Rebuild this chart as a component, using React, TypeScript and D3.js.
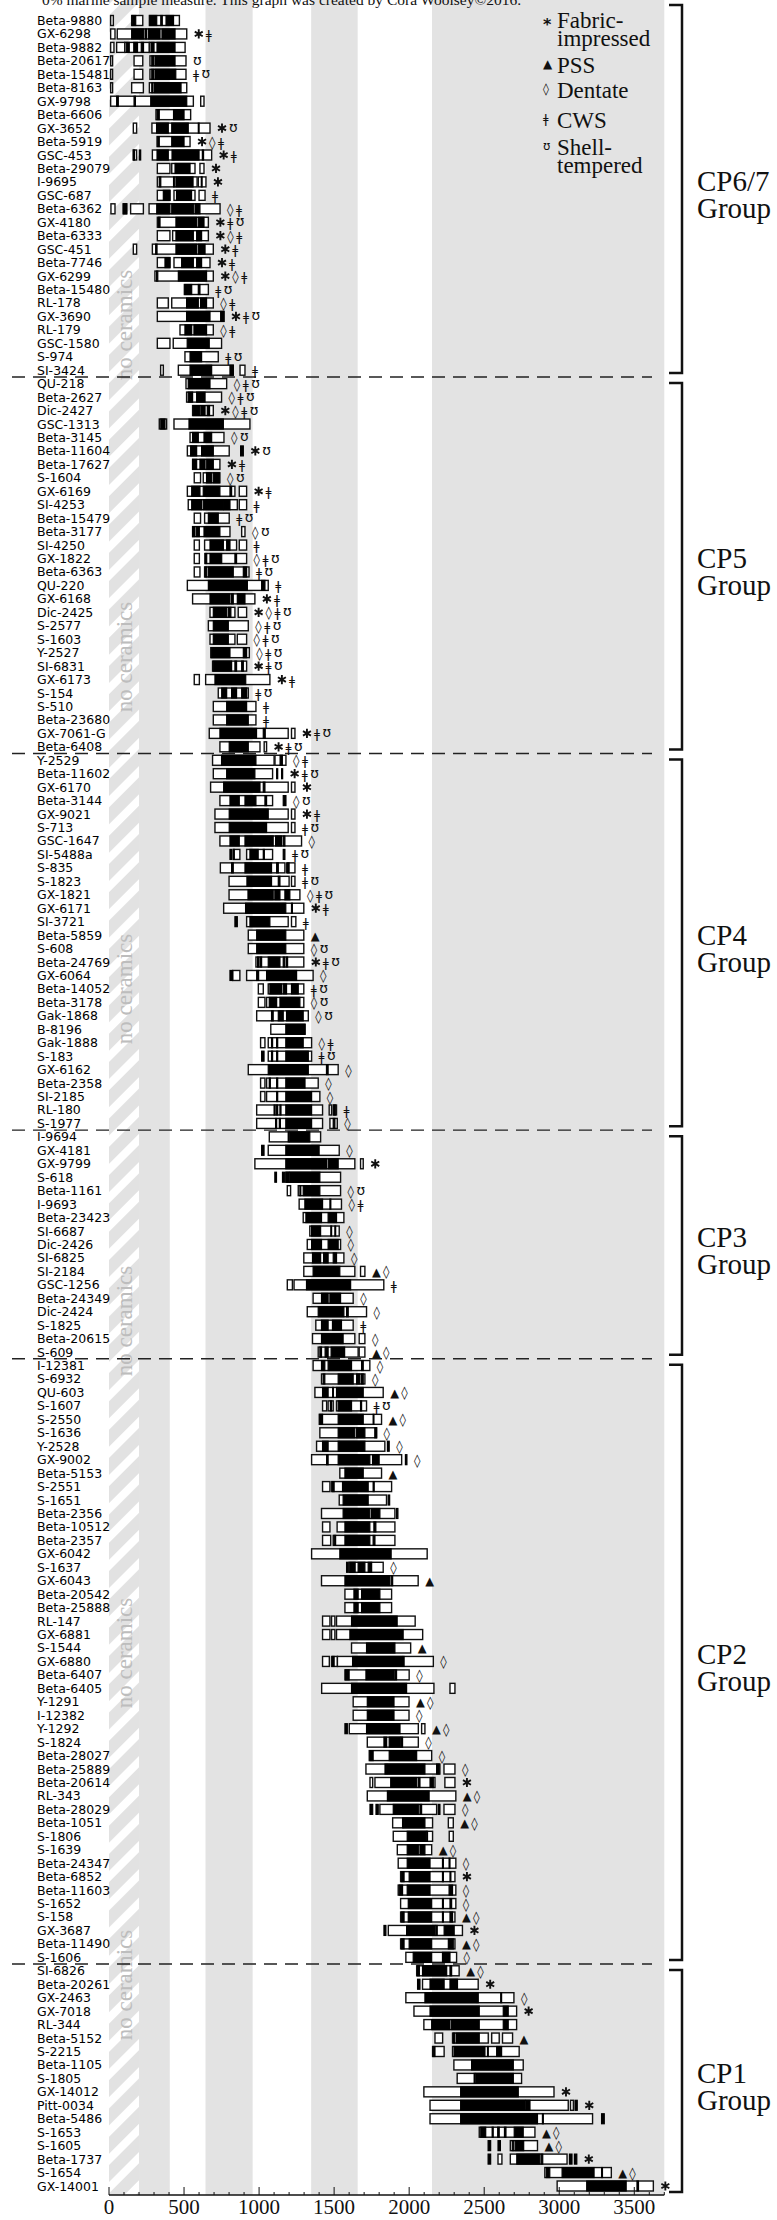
import React, { useEffect } from "react";
import * as d3 from "d3";

type Row = [string, number[][], number[][], string];

const cp67: Row[] = [
  ["Beta-9880", [[11,29],[151,225],[269,469]], [[155,178],[273,318],[345,355],[380,430]], ""],
  ["GX-6298", [[11,40],[55,518]], [[151,229],[240,250],[262,340],[353,440]], "*ǂ"],
  ["Beta-9882", [[11,33],[51,105],[105,269],[269,507]], [[115,135],[165,190],[215,230],[280,300],[320,440]], ""],
  ["Beta-20617", [[11,24],[167,225],[273,513]], [[285,300],[310,440]], "ʊ"],
  ["Beta-15481", [[11,24],[167,225],[273,513]], [[285,300],[310,445]], "ǂʊ"],
  ["Beta-8163", [[11,24],[151,229],[269,518]], [[285,290],[300,480]], ""],
  ["GX-9798", [[11,562],[611,633]], [[51,62],[167,176],[278,518]], ""],
  ["Beta-6606", [[313,544]], [[320,335],[430,500]], ""],
  ["GX-3652", [[162,184],[286,673]], [[317,395],[418,528],[595,600]], "*ʊ"],
  ["Beta-5919", [[320,540]], [[325,335],[418,500]], "*◊ǂ"],
  ["GSC-453", [[162,184],[289,684]], [[162,170],[202,211],[320,395],[420,600],[622,630]], "*ǂ"],
  ["Beta-29079", [[322,406],[418,573],[606,633]], [[440,540]], "*"],
  ["I-9695", [[322,587],[595,646]], [[335,345],[430,435],[446,560],[615,620]], "*"],
  ["GSC-687", [[322,406],[433,573],[600,640]], [[362,406],[450,550]], "ǂ"],
  ["Beta-6362", [[13,40],[95,118],[144,229],[267,740]], [[95,118],[318,406],[418,562],[573,606]], "◊ǂ"],
  ["GX-4180", [[322,662]], [[330,340],[446,584],[595,633]], "*ǂʊ"],
  ["Beta-6333", [[322,406],[424,662]], [[446,562],[584,617]], "*◊ǂ"],
  ["GSC-451", [[162,184],[289,695]], [[311,320],[446,584],[595,640]], "*ǂ"],
  ["Beta-7746", [[322,406],[433,673]], [[373,406],[484,562],[584,617]], "*ǂ"],
  ["GX-6299", [[306,695]], [[317,325],[462,650]], "*◊ǂ"],
  ["Beta-15480", [[502,662]], [[506,551],[595,606]], "ǂʊ"],
  ["RL-178", [[322,395],[418,695]], [[517,595],[610,650]], "◊ǂ"],
  ["GX-3690", [[322,766]], [[517,673],[744,766]], "*ǂʊ"],
  ["RL-179", [[473,695]], [[506,551],[566,650]], "◊ǂ"],
  ["GSC-1580", [[322,406],[428,750]], [[521,668]], ""],
  ["S-974", [[506,728]], [[540,617]], "ǂʊ"],
  ["SI-3424", [[344,362],[462,828],[873,906]], [[540,684],[806,828]], "ǂ"],
];

const cp5: Row[] = [
  ["QU-218", [[513,784]], [[528,673]], "◊ǂʊ"],
  ["Beta-2627", [[517,750]], [[528,557],[584,640]], "◊ǂʊ"],
  ["Dic-2427", [[557,695]], [[562,606],[613,640],[655,670]], "*◊ǂʊ"],
  ["GSC-1313", [[335,384],[433,939]], [[345,373],[533,762]], ""],
  ["Beta-3145", [[540,766]], [[557,595],[633,684]], "◊ʊ"],
  ["Beta-11604", [[522,801]], [[544,584],[617,695],[877,895]], "*ʊ"],
  ["Beta-17627", [[557,739]], [[557,584],[606,640],[651,695]], "*ǂ"],
  ["S-1604", [[568,610],[628,739]], [[650,684],[695,735]], "◊ʊ"],
  ["GX-6169", [[522,839],[868,917]], [[551,606],[628,739],[806,817]], "*ǂ"],
  ["SI-4253", [[528,855],[868,917]], [[551,617],[628,762],[766,806]], "ǂ"],
  ["Beta-15479", [[568,610],[637,801]], [[662,728]], "ǂʊ"],
  ["Beta-3177", [[557,806],[884,906]], [[557,573],[584,602],[633,739]], "◊ʊ"],
  ["SI-4250", [[568,602],[637,850],[868,917]], [[673,762],[784,806]], "ǂ"],
  ["GX-1822", [[568,602],[640,917]], [[640,651],[673,751],[839,850]], "◊ǂʊ"],
  ["Beta-6363", [[568,606],[637,933]], [[640,651],[662,828],[895,917]], "ǂʊ"],
  ["QU-220", [[522,1061]], [[662,922],[1017,1039]], "ǂ"],
  ["GX-6168", [[557,972]], [[673,806],[817,828],[855,906]], "*ǂ"],
  ["Dic-2425", [[673,839],[861,917]], [[695,784],[795,812]], "*◊ǂʊ"],
  ["S-2577", [[662,928]], [[695,795]], "◊ǂʊ"],
  ["S-1603", [[673,839],[855,917]], [[695,795]], "◊ǂʊ"],
  ["Y-2527", [[678,935]], [[684,806],[895,917]], "◊ǂʊ"],
  ["SI-6831", [[690,917]], [[695,817],[839,850],[884,895]], "*ǂʊ"],
  ["GX-6173", [[568,602],[644,1072]], [[706,911]], "*ǂ"],
  ["S-154", [[728,928]], [[751,784],[817,850],[884,917]], "ǂʊ"],
  ["S-510", [[695,979]], [[784,917]], "ǂ"],
  ["Beta-23680", [[695,979]], [[784,928]], "ǂ"],
  ["GX-7061-G", [[668,1194],[1216,1239]], [[739,983],[1028,1041]], "*ǂʊ"],
  ["Beta-6408", [[739,1006],[1034,1050]], [[801,928]], "*ǂʊ"],
];

const cp4: Row[] = [
  ["Y-2529", [[690,1100],[1106,1179]], [[750,979],[1140,1155]], "◊ǂ"],
  ["Beta-11602", [[695,1090]], [[784,972],[1117,1124],[1150,1157]], "*ǂʊ"],
  ["GX-6170", [[677,1194],[1216,1239]], [[764,1006],[1028,1039]], "*"],
  ["Beta-3144", [[739,1090]], [[806,868],[906,979],[1039,1050],[1161,1179]], "◊ʊ"],
  ["GX-9021", [[706,1194],[1216,1239]], [[801,1061]], "*ǂ"],
  ["S-713", [[706,1194],[1216,1239]], [[801,1050]], "ǂʊ"],
  ["GSC-1647", [[739,1283]], [[806,868],[906,1094],[1110,1150],[1161,1172]], "◊"],
  ["SI-5488a", [[828,872],[917,1090]], [[806,817],[828,835],[939,994],[1028,1035],[1161,1172]], "ǂʊ"],
  ["S-835", [[742,1172],[1183,1239]], [[817,828],[906,1083],[1117,1128],[1190,1200]], "ǂ"],
  ["S-1823", [[800,1200],[1216,1239]], [[919,1083],[1128,1139]], "ǂʊ"],
  ["GX-1821", [[800,1272]], [[926,1094],[1105,1139],[1172,1205]], "◊ǂʊ"],
  ["GX-6171", [[764,1298]], [[910,1178],[1216,1222]], "*ǂ"],
  ["SI-3721", [[917,1194],[1216,1245]], [[839,855],[939,1072]], "ǂ"],
  ["Beta-5859", [[928,1298]], [[984,1178]], "▲"],
  ["S-608", [[928,1298]], [[984,1178]], "◊ʊ"],
  ["Beta-24769", [[979,1298]], [[990,1000],[1010,1017],[1061,1139],[1161,1172],[1183,1190]], "*ǂʊ"],
  ["GX-6064", [[824,872],[917,1360]], [[806,824],[984,997],[1050,1250]], "◊"],
  ["Beta-14052", [[995,1028],[1061,1298]], [[1072,1150],[1161,1183],[1216,1261]], "ǂʊ"],
  ["Beta-3178", [[995,1039],[1050,1298]], [[1068,1117],[1139,1272]], "◊ʊ"],
  ["Gak-1868", [[984,1328]], [[1083,1094],[1128,1161],[1183,1294]], "◊ʊ"],
  ["B-8196", [[1078,1306]], [[1178,1306]], ""],
  ["Gak-1888", [[1010,1039],[1061,1350]], [[1083,1090],[1117,1124],[1178,1294]], "◊ǂ"],
  ["S-183", [[1061,1350]], [[1017,1033],[1083,1090],[1117,1124],[1178,1328]], "ǂʊ"],
  ["GX-6162", [[928,1527]], [[1061,1328],[1449,1460]], "◊"],
  ["Beta-2358", [[1010,1039],[1050,1394]], [[1068,1075],[1117,1124],[1178,1306]], "◊"],
  ["SI-2185", [[1010,1039],[1050,1405]], [[1117,1124],[1178,1350]], "◊"],
  ["RL-180", [[984,1423],[1467,1483],[1494,1516]], [[1100,1107],[1117,1124],[1139,1146],[1178,1350],[1498,1508]], "ǂ"],
  ["S-1977", [[984,1423],[1472,1521]], [[1110,1117],[1135,1142],[1178,1350],[1494,1505]], "◊"],
];

const cp3: Row[] = [
  ["I-9694", [[1068,1410]], [[1194,1200],[1205,1338]], ""],
  ["GX-4181", [[1061,1534]], [[1017,1033],[1178,1400]], "◊"],
  ["GX-9799", [[972,1638],[1676,1694]], [[1178,1449],[1460,1527]], "*"],
  ["S-618", [[1178,1543]], [[1105,1116],[1156,1172],[1183,1200],[1205,1405]], ""],
  ["Beta-1161", [[1188,1210],[1261,1543]], [[1272,1278],[1294,1405]], "◊ʊ"],
  ["I-9693", [[1267,1549]], [[1305,1423],[1472,1478]], "◊ǂ"],
  ["Beta-23423", [[1294,1565]], [[1312,1416],[1460,1516]], ""],
  ["SI-6687", [[1338,1534]], [[1350,1410],[1478,1483],[1505,1510]], "◊"],
  ["Dic-2426", [[1321,1543]], [[1350,1416],[1460,1527]], "◊"],
  ["SI-6825", [[1298,1565]], [[1356,1410],[1430,1460],[1494,1516]], "◊"],
  ["SI-2184", [[1298,1638],[1676,1705]], [[1360,1538]], "▲◊"],
  ["GSC-1256", [[1188,1222],[1233,1831]], [[1316,1610]], "ǂ"],
  ["Beta-24349", [[1360,1627]], [[1416,1460],[1472,1543]], "◊"],
  ["Dic-2424", [[1321,1716]], [[1394,1565],[1583,1594]], "◊"],
  ["S-1825", [[1378,1627]], [[1416,1460],[1489,1549]], "ǂ"],
  ["Beta-20615", [[1356,1638],[1667,1705]], [[1416,1560]], "◊"],
  ["S-609", [[1394,1660],[1667,1705]], [[1405,1416],[1440,1460],[1480,1570]], "▲◊"],
];

const cp2: Row[] = [
  ["I-12381", [[1360,1738]], [[1416,1438],[1460,1616],[1683,1694]], "◊"],
  ["S-6932", [[1416,1705]], [[1427,1438],[1527,1627],[1650,1672],[1683,1694]], "◊"],
  ["QU-603", [[1372,1827]], [[1423,1460],[1490,1495],[1516,1694]], "▲◊"],
  ["S-1607", [[1423,1450],[1460,1494],[1516,1716]], [[1475,1483],[1527,1616],[1676,1683]], "ǂʊ"],
  ["S-2550", [[1401,1816]], [[1405,1423],[1527,1694],[1760,1765]], "▲◊"],
  ["S-1636", [[1405,1783]], [[1527,1638],[1650,1705],[1771,1783]], "◊"],
  ["Y-2528", [[1383,1838]], [[1423,1460],[1527,1705],[1855,1867]], "◊"],
  ["GX-9002", [[1350,1950]], [[1450,1460],[1527,1738],[1756,1800],[1975,1985]], "◊"],
  ["Beta-5153", [[1538,1816]], [[1572,1694]], "▲"],
  ["S-2551", [[1423,1472],[1483,1883]], [[1490,1500],[1556,1727],[1760,1767]], ""],
  ["S-1651", [[1534,1849]], [[1560,1727],[1860,1870]], ""],
  ["Beta-2356", [[1416,1905]], [[1560,1738],[1749,1805],[1916,1925]], ""],
  ["Beta-10512", [[1423,1472],[1520,1905]], [[1572,1738],[1765,1778]], ""],
  ["Beta-2357", [[1423,1477],[1494,1905]], [[1500,1510],[1572,1738],[1760,1772]], ""],
  ["GX-6042", [[1350,2120]], [[1538,1880]], ""],
  ["S-1637", [[1600,1827]], [[1583,1594],[1605,1640],[1660,1705],[1727,1750]], "◊"],
  ["GX-6043", [[1416,2060]], [[1572,1870],[1880,1890]], "▲"],
  ["Beta-20542", [[1572,1883]], [[1632,1660],[1683,1805]], ""],
  ["Beta-25888", [[1572,1883]], [[1632,1660],[1683,1805]], ""],
  ["RL-147", [[1423,1472],[1483,1505],[1516,2040]], [[1616,1920]], ""],
  ["GX-6881", [[1423,1472],[1483,1505],[1516,2090]], [[1605,1960]], ""],
  ["S-1544", [[1616,2010]], [[1716,1905]], "▲"],
  ["GX-6880", [[1423,1468],[1483,1522],[1522,2161]], [[1490,1500],[1623,1956],[1961,1966]], "◊"],
  ["Beta-6407", [[1572,2000]], [[1576,1600],[1712,1899],[1905,1916]], "◊"],
  ["Beta-6405", [[1417,2165],[2272,2305]], [[1616,1983]], ""],
  ["Y-1291", [[1627,1999]], [[1721,1899]], "▲◊"],
  ["I-12382", [[1627,1999]], [[1721,1899]], "◊"],
  ["Y-1292", [[1601,2061],[2083,2105]], [[1572,1588],[1716,1939]], "▲◊"],
  ["S-1824", [[1721,2061]], [[1832,1850],[1867,1939],[1944,1956]], "◊"],
  ["Beta-28027", [[1734,2150]], [[1739,1760],[1867,2050]], "◊"],
  ["Beta-25889", [[1712,2205],[2232,2305]], [[1839,1850],[1855,2105],[2183,2200]], "◊"],
  ["Beta-20614", [[1739,1757],[1772,2172],[2238,2305]], [[1877,2050],[2061,2072],[2139,2161]], "*"],
  ["RL-343", [[1721,2311]], [[1855,2133]], "▲◊"],
  ["Beta-28029", [[1805,2183],[2232,2305]], [[1739,1757],[1779,1794],[1894,2061],[2072,2083],[2194,2205]], "◊"],
  ["Beta-1051", [[1890,2156],[2261,2294]], [[1956,1962],[1968,2105]], "▲◊"],
  ["S-1806", [[1894,2156],[2267,2294]], [[1987,2112],[2117,2122]], ""],
  ["S-1639", [[1921,2150]], [[1987,2061],[2072,2105]], "▲◊"],
  ["Beta-24347", [[1927,2311]], [[1987,2139],[2222,2228],[2266,2272]], "◊"],
  ["Beta-6852", [[1943,2305]], [[1950,1966],[2000,2139],[2222,2228],[2272,2278]], "*"],
  ["Beta-11603", [[1927,2311]], [[1934,1956],[1987,2139],[2266,2289]], "◊"],
  ["S-1652", [[1943,2311]], [[1994,2150],[2222,2228],[2272,2283]], "◊"],
  ["S-158", [[1943,2305]], [[1950,1966],[1994,2150],[2222,2228],[2272,2289]], "▲◊"],
  ["GX-3687", [[1861,2355]], [[1832,1845],[1983,2172],[2178,2187],[2233,2300]], "*"],
  ["Beta-11490", [[1943,2305]], [[1950,1966],[2000,2150],[2261,2294]], "▲◊"],
  ["S-1606", [[1978,2316]], [[2027,2150],[2222,2272]], "◊"],
];

const cp1: Row[] = [
  ["SI-6826", [[2050,2333]], [[2055,2068],[2089,2250],[2272,2283]], "▲◊"],
  ["Beta-20261", [[2089,2460]], [[2056,2072],[2139,2233],[2272,2322]], "*"],
  ["GX-2463", [[1978,2698]], [[2105,2449],[2455,2460],[2610,2616]], "◊"],
  ["GX-7018", [[2032,2716]], [[2139,2467],[2627,2660]], "*"],
  ["RL-344", [[2098,2716]], [[2150,2272],[2283,2467],[2627,2660]], ""],
  ["Beta-5152", [[2172,2223],[2289,2527],[2550,2600],[2622,2689]], [[2295,2305],[2316,2467]], "▲"],
  ["S-2215", [[2156,2233],[2289,2733]], [[2160,2172],[2299,2505],[2522,2527],[2583,2616]], ""],
  ["Beta-1105", [[2298,2760]], [[2416,2694]], ""],
  ["S-1805", [[2320,2749]], [[2433,2438],[2444,2694]], ""],
  ["GX-14012", [[2098,2965]], [[2343,2727]], "*"],
  ["Pitt-0034", [[2139,3060],[3075,3094]], [[2343,2772],[2777,2805],[3105,3120]], "*"],
  ["Beta-5486", [[2139,3222]], [[2343,2855],[2888,2894],[3282,3300]], ""],
  ["S-1653", [[2467,2838]], [[2477,2510],[2553,2560],[2590,2600],[2635,2645],[2700,2760]], "▲◊"],
  ["S-1605", [[2674,2855]], [[2526,2543],[2592,2608],[2687,2697],[2707,2763]], "▲◊"],
  ["Beta-1737", [[2592,2618],[2674,3052]], [[2526,2543],[2717,2871],[2880,2890],[3068,3085],[3101,3117]], "*"],
  ["S-1654", [[2904,3347]], [[2914,2937],[3019,3232],[3282,3288]], "▲◊"],
  ["GX-14001", [[2986,3627]], [[3183,3446],[3518,3528]], "*"],
];

const groupNames = ["CP6/7", "CP5", "CP4", "CP3", "CP2", "CP1"];
const groupRows = [cp67, cp5, cp4, cp3, cp2, cp1];
const xTicks = [0, 500, 1000, 1500, 2000, 2500, 3000, 3500];
const grayBands = [[200, 405], [643, 957], [1347, 1657], [2152, 3700]];
const hatchBand = [0, 200];
const legendItems: string[][] = [
  ["*", "Fabric-", "impressed"],
  ["▲", "PSS"],
  ["◊", "Dentate"],
  ["ǂ", "CWS"],
  ["ʊ", "Shell-", "tempered"],
];
const titleText = "0% marine sample measure. This graph was created by Cora Woolsey©2016.";

const markStyle: Record<string, { size: number; dy: number; adv: number }> = {
  "*": { size: 0, dy: 0, adv: 12 },
  "▲": { size: 11.5, dy: 4.5, adv: 11 },
  "◊": { size: 13, dy: 5, adv: 9 },
  "ǂ": { size: 13, dy: 5, adv: 8.5 },
  "ʊ": { size: 14, dy: 4, adv: 10 },
};

// six-spoke asterisk drawn as a path, centred on (0,0)
const asteriskPath = (r: number) =>
  [90, 30, 150]
    .map((a) => {
      const t = (a * Math.PI) / 180;
      const dx = r * Math.cos(t), dy = r * Math.sin(t);
      return `M${-dx},${-dy}L${dx},${dy}`;
    })
    .join("");

export default function App() {
  useEffect(() => {
    document.body.style.margin = "0";
  }, []);
  const W = 777, H = 2220;
  const axisY = 2195;
  const x = d3.scaleLinear().domain([0, 3700]).range([109, 664.3]);
  const allRows = groupRows.flat();
  const y = d3.scalePoint<string>().domain(allRows.map((r) => r[0])).range([20.5, 2186]);
  const boxH = 10;

  const dividers: number[] = [];
  for (let i = 0; i < groupRows.length - 1; i++) {
    const a = groupRows[i][groupRows[i].length - 1][0];
    const b = groupRows[i + 1][0][0];
    dividers.push(((y(a) as number) + (y(b) as number)) / 2);
  }
  const brackets = groupRows.map((_, i) => {
    const top = i === 0 ? 5 : dividers[i - 1] + 6;
    const bottom = i === groupRows.length - 1 ? 2192 : dividers[i] - 4;
    return { top, bottom };
  });

  const minorTicks = d3.range(0, 3701, 100);
  const noCeramicsY = [325, 657, 989, 1321, 1653, 1985];

  return (
    <svg width={W} height={H} style={{ display: "block", position: "absolute", left: 0, top: 0, background: "#fff" }}>
      <defs>
        <pattern id="hatch" patternUnits="userSpaceOnUse" width="20" height="20" patternTransform="rotate(-45)">
          <rect x="0" y="0" width="20" height="20" fill="#e2e2e2" />
          <rect x="0" y="0" width="20" height="8" fill="#ffffff" />
        </pattern>
      </defs>
      <rect x={0} y={0} width={W} height={H} fill="#fff" />
      {grayBands.map((b, i) => (
        <rect key={"g" + i} x={x(b[0])} y={0} width={x(b[1]) - x(b[0])} height={axisY} fill="#e3e3e3" />
      ))}
      <rect x={x(hatchBand[0])} y={0} width={x(hatchBand[1]) - x(hatchBand[0])} height={axisY} fill="url(#hatch)" />
      {noCeramicsY.map((cy, i) => (
        <text key={"nc" + i} transform={`translate(132,${cy}) rotate(-90)`} textAnchor="middle"
          fontFamily="Liberation Serif" fontSize={23} fill="#bdbdbd">no ceramics</text>
      ))}
      <text x={42} y={5} fontFamily="Liberation Serif" fontSize={15.5} fill="#111">{titleText}</text>

      {dividers.map((d, i) => (
        <line key={"d" + i} x1={12} x2={652} y1={d} y2={d} stroke="#222" strokeWidth={1.4} strokeDasharray="13 8" />
      ))}

      {allRows.map((r) => {
        const yc = y(r[0]) as number;
        const ends = [...r[1], ...r[2]].map((s) => s[1]);
        const maxEnd = d3.max(ends) as number;
        let mx = x(maxEnd) + 7;
        const glyphs = Array.from(r[3]);
        return (
          <g key={r[0]}>
            <text x={37} y={yc + 4.5} fontFamily="DejaVu Sans" fontSize={12.5} fill="#000">{r[0]}</text>
            {r[1].map((s, j) => (
              <rect key={"w" + j} x={x(s[0])} y={yc - boxH / 2} width={Math.max(1, x(s[1]) - x(s[0]))} height={boxH}
                fill="#fff" stroke="#111" strokeWidth={1.4} />
            ))}
            {r[2].map((s, j) => (
              <rect key={"b" + j} x={x(s[0])} y={yc - boxH / 2} width={Math.max(0.8, x(s[1]) - x(s[0]))} height={boxH}
                fill="#000" stroke="#000" strokeWidth={1.2} />
            ))}
            {glyphs.map((gch, j) => {
              const st = markStyle[gch];
              const px = mx;
              mx += st.adv;
              if (gch === "*") {
                return (
                  <path key={"m" + j} d={asteriskPath(4.6)} transform={`translate(${px + 5},${yc})`}
                    stroke="#111" strokeWidth={1.9} strokeLinecap="butt" fill="none" />
                );
              }
              return (
                <text key={"m" + j} x={px} y={yc + st.dy} fontFamily="DejaVu Sans"
                  fontSize={st.size} fill="#111">{gch}</text>
              );
            })}
          </g>
        );
      })}

      {brackets.map((b, i) => (
        <path key={"br" + i} d={`M669,${b.top} H682 V${b.bottom} H669`} fill="none" stroke="#111" strokeWidth={2.5} />
      ))}
      {brackets.map((b, i) => {
        const mid = (b.top + b.bottom) / 2;
        return (
          <g key={"gl" + i}>
            <text x={697} y={mid + 2} fontFamily="Liberation Serif" fontSize={29} fill="#111">{groupNames[i]}</text>
            <text x={697} y={mid + 29} fontFamily="Liberation Serif" fontSize={29} fill="#111">Group</text>
          </g>
        );
      })}

      {legendItems.map((it, i) => {
        const base = [28, 73, 98, 128, 155][i];
        return (
          <g key={"lg" + i}>
            <text x={543} y={base - 5 + (it[0] === "*" ? 7 : 0)} fontFamily="DejaVu Sans" fontSize={it[0] === "*" ? 16 : 12}
              fontWeight={it[0] === "*" ? "bold" : "normal"} fill="#111">{it[0]}</text>
            <text x={557} y={base} fontFamily="Liberation Serif" fontSize={23} fill="#111">{it[1]}</text>
            {it[2] && <text x={557} y={base + 18} fontFamily="Liberation Serif" fontSize={23} fill="#111">{it[2]}</text>}
          </g>
        );
      })}

      <line x1={x(0)} x2={x(3700)} y1={axisY} y2={axisY} stroke="#111" strokeWidth={1.5} />
      {minorTicks.map((t) => (
        <line key={"mt" + t} x1={x(t)} x2={x(t)} y1={axisY} y2={t % 500 === 0 ? axisY - 8 : axisY - 3} stroke="#111" strokeWidth={1} />
      ))}
      {xTicks.map((t) => (
        <text key={"xt" + t} x={x(t)} y={axisY + 19} textAnchor="middle" fontFamily="Liberation Serif" fontSize={21} fill="#111">{t}</text>
      ))}
    </svg>
  );
}
